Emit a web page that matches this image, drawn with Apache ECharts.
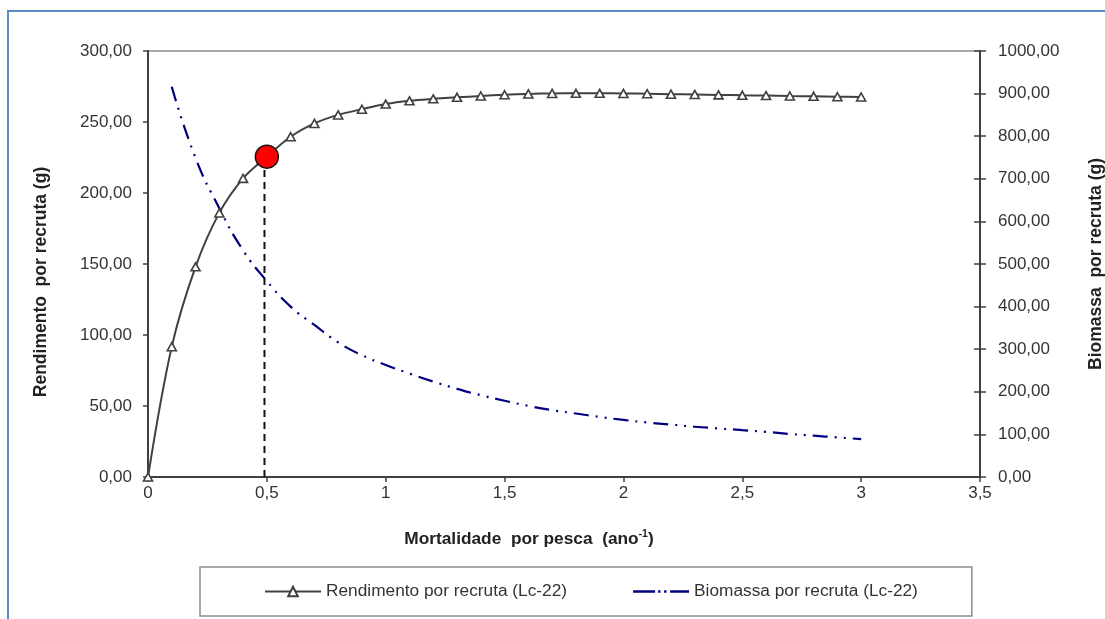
<!DOCTYPE html>
<html>
<head>
<meta charset="utf-8">
<script src="https://cdn.jsdelivr.net/npm/echarts@6/dist/echarts.min.js"></script>
<style>
  html, body { margin: 0; padding: 0; background: #fff; }
  #chart { width: 1105px; height: 619px; }
</style>
</head>
<body>
<div id="chart"></div>
<script>
// mortalidade por pesca F (ano-1)
var mortalidade = [0, 0.1, 0.2, 0.3, 0.4, 0.5, 0.6, 0.7, 0.8, 0.9, 1.0,
  1.1, 1.2, 1.3, 1.4, 1.5, 1.6, 1.7, 1.8, 1.9, 2.0,
  2.1, 2.2, 2.3, 2.4, 2.5, 2.6, 2.7, 2.8, 2.9, 3.0];

// rendimento por recruta (g) - eixo esquerdo
var rendimento = [0, 91.8, 148, 186, 210.3, 225.6, 239.6, 249, 255, 259, 262.6,
  264.9, 266.3, 267.4, 268.3, 269.2, 269.8, 270.1, 270.2, 270.2, 270.1,
  269.9, 269.6, 269.4, 269.1, 268.8, 268.6, 268.3, 268.1, 267.8, 267.6];

// biomassa por recruta (g) - eixo direito, comeca em F = 0.1
var biomassa = [null, 916, 749, 631, 532, 460, 400, 357, 316, 286, 263,
  243, 224, 207, 192, 179, 167, 157, 149, 141, 134,
  128, 123, 118, 114, 110, 106, 101, 97, 93, 89];

// ponto destacado (F proximo de 0.5)
var pontoF = [0.5];
var pontoY = [225.6];
var linhaF = [0.49, 0.49];
var linhaY = [0, 222];

var nomeRend = 'Rendimento por recruta (Lc-22)';
var nomeBio = 'Biomassa por recruta (Lc-22)';

var chart = echarts.init(document.getElementById('chart'), null, { renderer: 'canvas' });

var fonte = 'Liberation Sans, Arial, sans-serif';
var cinza = '#404040';

function virgula2(v) { return v.toFixed(2).replace('.', ','); }

// icone da legenda: traco - ponto - ponto - traco (caixa 56x12)
var iconeBio = 'path://M0,0h0.01v0.01h-0.01z M56,12h-0.01v-0.01h0.01z' +
  ' M0,4.8h22v2.4h-22z M25,4.8h2.4v2.4h-2.4z M31,4.8h2.4v2.4h-2.4z M37,4.8h19v2.4h-19z';

var option = {
  backgroundColor: '#fff',
  animation: false,
  textStyle: { fontFamily: fonte },
  graphic: [{
    type: 'rect',
    shape: { x: 8, y: 11, width: 1300, height: 800 },
    style: { fill: 'none', stroke: '#5a8ac6', lineWidth: 2 },
    silent: true
  }],
  grid: {
    left: 148, right: 125, top: 51, bottom: 142,
    outerBoundsMode: 'none',
    containLabel: false,
    show: true, borderColor: '#8c8c8c', borderWidth: 1.5, backgroundColor: 'transparent'
  },
  legend: {
    left: 200, top: 567,
    padding: [16, 54, 16, 64],
    itemGap: 66,
    itemWidth: 56, itemHeight: 12,
    borderColor: '#8c8c8c', borderWidth: 1.5, borderRadius: 0,
    textStyle: { fontSize: 17.3, color: '#333', fontFamily: fonte },
    data: [{ name: nomeRend }, { name: nomeBio, icon: iconeBio }]
  },
  xAxis: {
    type: 'value',
    min: 0, max: 3.5, interval: 0.5,
    name: '{b|Mortalidade  por pesca  (ano}{s|-1}{b|)}',
    nameLocation: 'middle',
    nameGap: 52,
    nameTextStyle: {
      padding: [0, 70, 0, 0],
      rich: {
        b: { fontSize: 17.3, fontWeight: 'bold', color: '#222', fontFamily: fonte, lineHeight: 20 },
        s: { fontSize: 10.5, fontWeight: 'bold', color: '#222', fontFamily: fonte, verticalAlign: 'top', lineHeight: 20 }
      }
    },
    axisLine: { show: true, lineStyle: { color: cinza, width: 2 } },
    axisTick: { show: true, length: 5, lineStyle: { color: cinza, width: 1.5 } },
    axisLabel: {
      fontSize: 17, color: '#333', margin: 8,
      formatter: function (v) { return String(v).replace('.', ','); }
    },
    splitLine: { show: false }
  },
  yAxis: [{
    type: 'value',
    position: 'left',
    min: 0, max: 300, interval: 50,
    name: 'Rendimento  por recruta (g)',
    nameLocation: 'middle',
    nameGap: 98,
    nameRotate: 90,
    nameTextStyle: { fontSize: 17.5, fontWeight: 'bold', color: '#222', padding: [0, 36, 0, 0] },
    axisLine: { show: true, lineStyle: { color: cinza, width: 2 } },
    axisTick: { show: true, length: 5, lineStyle: { color: cinza, width: 1.5 } },
    axisLabel: { fontSize: 17, color: '#333', margin: 16, formatter: virgula2 },
    splitLine: { show: false }
  }, {
    type: 'value',
    position: 'right',
    min: 0, max: 1000, interval: 100,
    name: 'Biomassa  por recruta (g)',
    nameLocation: 'middle',
    nameGap: 107,
    nameRotate: 90,
    nameTextStyle: { fontSize: 17.5, fontWeight: 'bold', color: '#222' },
    axisLine: { show: true, lineStyle: { color: cinza, width: 2 } },
    axisTick: { show: true, length: 6, lineStyle: { color: cinza, width: 1.5 } },
    axisLabel: { fontSize: 17, color: '#333', margin: 18, formatter: virgula2 },
    splitLine: { show: false }
  }, {
    // marcas internas do eixo direito (cruzando a linha)
    type: 'value',
    position: 'right',
    offset: 0,
    min: 0, max: 1000, interval: 100,
    axisLine: { show: false },
    axisTick: { show: true, inside: true, length: 6, lineStyle: { color: cinza, width: 1.5 } },
    axisLabel: { show: false },
    splitLine: { show: false }
  }],
  series: [{
    name: nomeBio,
    type: 'line',
    yAxisIndex: 1,
    smooth: true,
    symbol: 'none',
    connectNulls: false,
    lineStyle: { color: '#000080', width: 2.2, type: [15, 7, 2, 7, 2, 7] },
    itemStyle: { color: '#000080' },
    data: mortalidade.map(function (f, i) { return [f, biomassa[i]]; }),
    z: 2
  }, {
    name: nomeRend,
    type: 'line',
    yAxisIndex: 0,
    smooth: 0.35,
    symbol: 'triangle',
    symbolSize: [9, 8],
    showAllSymbol: true,
    lineStyle: { color: cinza, width: 2 },
    itemStyle: { color: '#fff', borderColor: cinza, borderWidth: 1.6 },
    data: mortalidade.map(function (f, i) { return [f, rendimento[i]]; }),
    z: 3
  }, {
    name: 'linha',
    type: 'line',
    yAxisIndex: 0,
    symbol: 'none',
    lineStyle: { color: '#111', width: 2, type: [7, 5] },
    data: linhaF.map(function (f, i) { return [f, linhaY[i]]; }),
    z: 4
  }, {
    name: 'ponto',
    type: 'scatter',
    yAxisIndex: 0,
    symbol: 'circle',
    symbolSize: 23,
    itemStyle: { color: '#ff0000', borderColor: '#111', borderWidth: 1.5, opacity: 1 },
    data: pontoF.map(function (f, i) { return [f, pontoY[i]]; }),
    z: 5
  }]
};

chart.setOption(option);
</script>
</body>
</html>
